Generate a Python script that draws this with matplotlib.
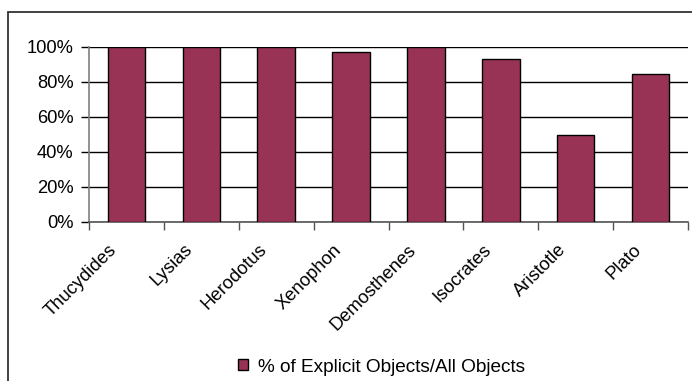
import numpy as np
import matplotlib.pyplot as plt
from matplotlib.patches import Rectangle
from matplotlib.ticker import PercentFormatter
from matplotlib.transforms import ScaledTranslation

# Share of explicit objects per author
authors = ["Thucydides", "Lysias", "Herodotus", "Xenophon",
           "Demosthenes", "Isocrates", "Aristotle", "Plato"]
explicit_pct = [100, 100, 100, 97, 100, 93, 49.5, 84.5]
series_name = "% of Explicit Objects/All Objects"

plt.rcParams["font.family"] = ["Liberation Sans", "DejaVu Sans"]

W, H = 692, 381
fig = plt.figure(figsize=(W / 100, H / 100), dpi=100)
ax = fig.add_axes([89 / W, 1 - 221.7 / H, (688 - 89) / W, (221.7 - 46.7) / H])

# outer chart frame (top and left edges visible)
fig.patches.append(Rectangle((8 / W, -0.2), 1.2, 1.2 - 12.3 / H,
                             transform=fig.transFigure, fill=False,
                             edgecolor="#333333", linewidth=1.3))

x = np.arange(len(authors))
bars = ax.bar(x, np.array(explicit_pct) / 100, width=0.5, color="#993355",
              edgecolor="black", linewidth=1.0, zorder=3, label=series_name)

ax.set_xlim(-0.5, len(authors) - 0.5)
ax.set_ylim(0, 1)
ax.set_yticks(np.linspace(0, 1, 6))
ax.yaxis.set_major_formatter(PercentFormatter(1.0, decimals=0))
ax.yaxis.grid(True, color="black", linewidth=1.0, zorder=0)
ax.set_axisbelow(True)

# category boundaries carry the x ticks, labels sit at centers
ax.set_xticks(np.arange(len(authors) + 1) - 0.5)
ax.set_xticklabels([])
ax.set_xticks(x, minor=True)
ax.set_xticklabels(authors, minor=True, rotation=45, ha="right",
                   rotation_mode="anchor", fontsize=13.2)
ax.tick_params(axis="x", which="minor", length=0, pad=14)
ax.tick_params(axis="x", which="major", length=6, width=1, color="#555555",
               direction="out")
ax.tick_params(axis="y", length=6, width=1, color="black", labelsize=13.2, pad=5)

for side in ("top", "right"):
    ax.spines[side].set_visible(False)
ax.spines["left"].set_color("#808080")
ax.spines["left"].set_linewidth(1.2)
ax.spines["bottom"].set_color("#555555")
ax.spines["bottom"].set_linewidth(1.2)

# pull the rotated labels a little left of the bar centers
shift = ScaledTranslation(-0.18, 0, fig.dpi_scale_trans)
for lbl in ax.get_xticklabels(minor=True):
    lbl.set_transform(lbl.get_transform() + shift)

fig.legend(handles=[bars], labels=[series_name], loc="center",
           bbox_to_anchor=(381.5 / W, 1 - 367 / H), frameon=False,
           fontsize=13.7, handlelength=0.5, handleheight=0.5,
           handletextpad=0.5)

fig.savefig("out.png", dpi=100)
